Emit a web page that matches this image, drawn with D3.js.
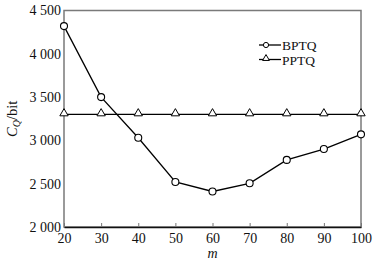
<!DOCTYPE html>
<html><head><meta charset="utf-8">
<script src="https://cdn.jsdelivr.net/npm/d3@7"></script>
<style>html,body{margin:0;padding:0;background:#fff;}svg{display:block;}</style>
</head><body>
<svg id="c" width="383" height="262"></svg>
<script>
const mValues = [20, 30, 40, 50, 60, 70, 80, 90, 100];
const bptq = [4320, 3500, 3030, 2520, 2410, 2505, 2775, 2900, 3070];
const pptq = [3300, 3300, 3300, 3300, 3300, 3300, 3300, 3300, 3300];
const yTicks = [2000, 2500, 3000, 3500, 4000, 4500];
const xTicks = [20, 30, 40, 50, 60, 70, 80, 90, 100];
const seriesNames = ["BPTQ", "PPTQ"];

const svg = d3.select("#c");
const L = 64, R = 361, T = 10.5, B = 227;
const x = d3.scaleLinear().domain([20, 100]).range([L, R]);
const y = d3.scaleLinear().domain([2000, 4500]).range([B, T]);
const font = "'Liberation Serif','Times New Roman',serif";
const fmt = d => { const s = String(d); return s.length > 3 ? s.slice(0, s.length - 3) + " " + s.slice(-3) : s; };

// frame
svg.append("rect").attr("x", L).attr("y", T).attr("width", R - L).attr("height", B - T)
  .attr("fill", "none").attr("stroke", "#7a7a7a").attr("stroke-width", 1.5);

// x axis (inward ticks)
const xa = svg.append("g").attr("transform", `translate(0,${B})`)
  .call(d3.axisBottom(x).tickValues(xTicks).tickSizeInner(-4).tickSizeOuter(0).tickPadding(6));
xa.select(".domain").attr("stroke", "#111").attr("stroke-width", 1.5);
xa.selectAll(".tick line").attr("stroke", "#777");
xa.selectAll("text").attr("font-family", font).attr("font-size", 14).attr("fill", "#111");

// y axis
const ya = svg.append("g").attr("transform", `translate(${L},0)`)
  .call(d3.axisLeft(y).tickValues(yTicks).tickFormat(fmt).tickSizeInner(0).tickSizeOuter(0).tickPadding(3));
ya.select(".domain").remove();
ya.selectAll("text").attr("font-family", font).attr("font-size", 14).attr("fill", "#111");

// axis labels
svg.append("text").attr("x", (L + R) / 2).attr("y", 258).attr("text-anchor", "middle")
  .attr("font-family", font).attr("font-size", 14).attr("font-style", "italic").attr("fill", "#111").text("m");
const yl = svg.append("text").attr("transform", `translate(17,${(T + B) / 2}) rotate(-90)`)
  .attr("text-anchor", "middle").attr("font-family", font).attr("font-size", 14.5).attr("fill", "#111");
yl.append("tspan").attr("font-style", "italic").text("C");
yl.append("tspan").attr("font-style", "italic").attr("font-size", 10).attr("dy", 3).text("Q");
yl.append("tspan").attr("dy", -3).text("/bit");

// lines
const lineB = d3.line().x((d, i) => x(mValues[i])).y(d => y(d));
const lineP = d3.line().x((d, i) => x(mValues[i])).y(d => y(d));
svg.append("path").attr("d", lineP(pptq)).attr("fill", "none").attr("stroke", "#000").attr("stroke-width", 1.3);
svg.append("path").attr("d", lineB(bptq)).attr("fill", "none").attr("stroke", "#000").attr("stroke-width", 1.3);

const tri = d3.symbol().type(d3.symbolTriangle).size(30);
svg.selectAll(".tp").data(pptq).enter().append("path")
  .attr("d", tri).attr("transform", (d, i) => `translate(${x(mValues[i])},${y(d) - 1})`)
  .attr("fill", "#fff").attr("stroke", "#000").attr("stroke-width", 1);
svg.selectAll(".cp").data(bptq).enter().append("circle")
  .attr("cx", (d, i) => x(mValues[i])).attr("cy", d => y(d)).attr("r", 3.5)
  .attr("fill", "#fff").attr("stroke", "#000").attr("stroke-width", 1.1);

// legend
const lg = svg.append("g");
[0, 1].forEach(i => {
  const ly = 45 + i * 14.5;
  lg.append("line").attr("x1", 259).attr("x2", 281).attr("y1", ly).attr("y2", ly).attr("stroke", "#000").attr("stroke-width", 1.3);
  if (i === 0) lg.append("circle").attr("cx", 266).attr("cy", ly).attr("r", 2.6).attr("fill", "#fff").attr("stroke", "#000");
  else lg.append("path").attr("d", d3.symbol().type(d3.symbolTriangle).size(20)).attr("transform", `translate(266,${ly - 1})`).attr("fill", "#fff").attr("stroke", "#000");
  lg.append("text").attr("x", 282).attr("y", ly + 5).attr("font-family", font).attr("font-size", 13.5).attr("fill", "#111").text(seriesNames[i]);
});
</script>
</body></html>
